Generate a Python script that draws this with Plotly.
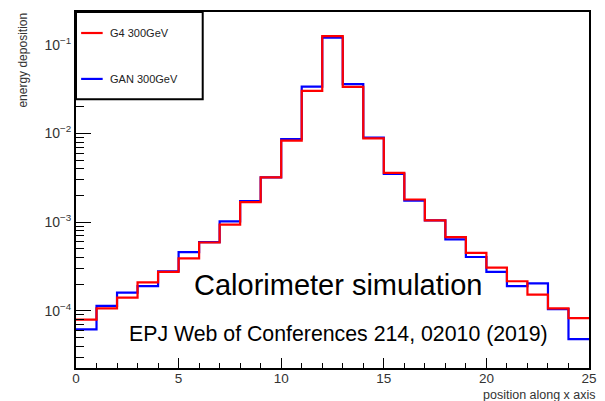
import plotly.graph_objects as go

# bin edges (position along x axis)
bin_edges = list(range(0, 26))

# energy deposition per bin
g4_300 = [8.0e-5, 1.07e-4, 1.41e-4, 2.1e-4, 2.75e-4, 3.9e-4, 5.9e-4, 9.4e-4,
          1.68e-3, 3.2e-3, 8.3e-3, 3.02e-2, 0.125, 3.35e-2, 8.8e-3, 3.6e-3,
          1.8e-3, 1.05e-3, 6.8e-4, 4.5e-4, 3.08e-4, 2.16e-4, 1.53e-4, 1.07e-4, 8.3e-5]
gan_300 = [6.2e-5, 1.14e-4, 1.61e-4, 1.9e-4, 2.8e-4, 4.6e-4, 5.95e-4, 1.02e-3,
           1.73e-3, 3.2e-3, 8.65e-3, 3.37e-2, 0.12, 3.59e-2, 9.0e-3, 3.5e-3,
           1.75e-3, 1.05e-3, 6.4e-4, 4.05e-4, 2.75e-4, 1.9e-4, 2.04e-4, 1.05e-4, 4.8e-5]

x_ticks = [0, 5, 10, 15, 20, 25]
y_ticks = [1e-4, 1e-3, 1e-2, 1e-1]
y_ticktext = ["10<sup>\u22124</sup>", "10<sup>\u22123</sup>", "10<sup>\u22122</sup>", "10<sup>\u22121</sup>"]
y_minor = [m * 10.0 ** e for e in range(-5, 0) for m in range(2, 10)]

FONT = "Liberation Sans, Arial, Helvetica, sans-serif"

fig = go.Figure()
fig.add_trace(go.Scatter(x=bin_edges, y=gan_300 + [gan_300[-1]], mode="lines",
                         line=dict(shape="hv", color="#0000ff", width=2.2),
                         name="GAN 300GeV", showlegend=False))
fig.add_trace(go.Scatter(x=bin_edges, y=g4_300 + [g4_300[-1]], mode="lines",
                         line=dict(shape="hv", color="#ff0000", width=2.2),
                         name="G4 300GeV", showlegend=False))

fig.update_layout(
    width=605, height=401,
    margin=dict(l=76, r=8, t=12, b=33),
    paper_bgcolor="white", plot_bgcolor="white",
    font=dict(family=FONT, color="#333333"),
    xaxis=dict(range=[0, 25], tickvals=x_ticks, ticks="inside", ticklen=10, tickwidth=1.3,
               tickcolor="black", showline=True, linecolor="black", linewidth=2, mirror=True,
               showgrid=False, zeroline=False, tickfont=dict(size=13.5, color="#333333"),
               ticklabelstandoff=-3,
               minor=dict(dtick=1, ticks="inside", ticklen=5, tickwidth=1.3, tickcolor="black")),
    yaxis=dict(type="log", range=[-4.643, -0.632], tickmode="array", tickvals=y_ticks,
               ticktext=y_ticktext, ticks="inside", ticklen=15, tickwidth=1.3, tickcolor="black",
               showline=True, linecolor="black", linewidth=2, mirror=True, showgrid=False,
               zeroline=False, tickfont=dict(size=14, color="#333333"),
               minor=dict(tickmode="array", tickvals=y_minor, ticks="inside", ticklen=8,
                          tickwidth=1.3, tickcolor="black")),
)

# legend box
fig.add_shape(type="rect", xref="paper", yref="paper", x0=0, x1=0.247, y0=0.755, y1=1,
              line=dict(color="black", width=2), fillcolor="white", layer="above")
fig.add_shape(type="line", xref="paper", yref="paper", x0=0.010, x1=0.052, y0=0.941, y1=0.941,
              line=dict(color="#ff0000", width=2.2))
fig.add_shape(type="line", xref="paper", yref="paper", x0=0.010, x1=0.052, y0=0.812, y1=0.812,
              line=dict(color="#0000ff", width=2.2))
fig.add_annotation(xref="paper", yref="paper", x=0.062, y=0.941, text="G4 300GeV",
                   showarrow=False, xanchor="left", yanchor="middle",
                   font=dict(size=11, color="#222222", family=FONT))
fig.add_annotation(xref="paper", yref="paper", x=0.062, y=0.812, text="GAN 300GeV",
                   showarrow=False, xanchor="left", yanchor="middle",
                   font=dict(size=11, color="#222222", family=FONT))

# axis titles
fig.add_annotation(xref="paper", yref="paper", x=-0.103, y=1.003, text="energy deposition",
                   textangle=-90, showarrow=False, xanchor="center", yanchor="top",
                   font=dict(size=12, color="#333333", family=FONT))
fig.add_annotation(xref="paper", yref="paper", x=1.016, y=-0.098, text="position along x axis",
                   showarrow=False, xanchor="right", yanchor="bottom", borderpad=0,
                   font=dict(size=12.5, color="#333333", family=FONT))

# text labels
fig.add_annotation(xref="paper", yref="paper", x=0.511, y=0.2325, text="Calorimeter simulation",
                   showarrow=False, xanchor="center", yanchor="middle",
                   font=dict(size=29, color="black", family=FONT))
fig.add_annotation(xref="paper", yref="paper", x=0.511, y=0.0947,
                   text="EPJ Web of Conferences 214, 02010 (2019)",
                   showarrow=False, xanchor="center", yanchor="middle",
                   font=dict(size=21.3, color="black", family=FONT))

fig.write_html("out.html")
